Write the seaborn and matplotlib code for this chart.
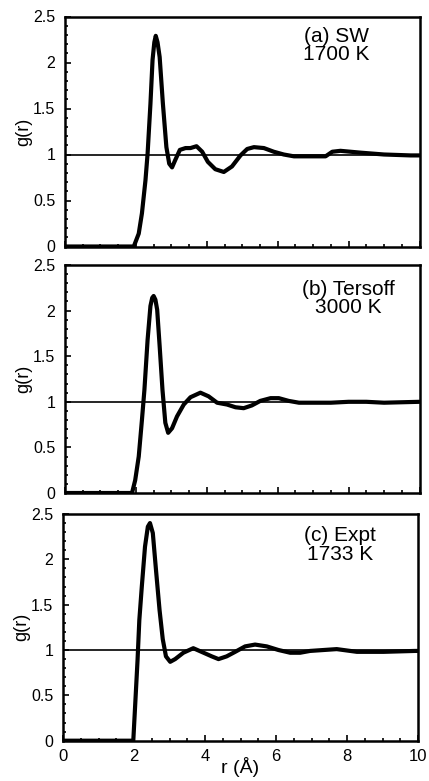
import matplotlib
matplotlib.use("Agg")
import matplotlib.pyplot as plt
import seaborn as sns
import pandas as pd
from matplotlib.ticker import MultipleLocator

# ---------------- data ----------------
r_sw = [0.0, 1.94, 2.08, 2.17, 2.27, 2.33, 2.41, 2.47, 2.52, 2.56, 2.61, 2.67, 2.76, 2.86,
        2.94, 3.02, 3.11, 3.24, 3.40, 3.54, 3.71, 3.87, 4.03, 4.24, 4.48, 4.71, 4.95,
        5.14, 5.33, 5.61, 5.89, 6.17, 6.46, 6.93, 7.35, 7.54, 7.77, 8.34, 9.0, 9.75, 10.0]
g_sw = [0.0, 0.0, 0.14, 0.36, 0.72, 1.01, 1.55, 2.03, 2.22, 2.29, 2.22, 2.06, 1.56, 1.08,
        0.90, 0.86, 0.94, 1.05, 1.07, 1.07, 1.09, 1.03, 0.92, 0.84, 0.81, 0.87, 0.99,
        1.06, 1.08, 1.07, 1.03, 1.00, 0.98, 0.98, 0.98, 1.03, 1.04, 1.02, 1.00, 0.99, 0.99]

r_ter = [0.0, 1.89, 1.98, 2.08, 2.17, 2.24, 2.33, 2.41, 2.46, 2.50, 2.55, 2.60, 2.67, 2.75,
         2.83, 2.91, 3.02, 3.16, 3.35, 3.54, 3.82, 4.05, 4.29, 4.57, 4.81, 5.04, 5.27,
         5.51, 5.80, 6.03, 6.31, 6.60, 7.0, 7.5, 8.0, 8.5, 9.0, 10.0]
g_ter = [0.0, 0.0, 0.14, 0.40, 0.80, 1.13, 1.68, 2.05, 2.14, 2.16, 2.12, 2.01, 1.61, 1.13,
         0.77, 0.66, 0.71, 0.84, 0.97, 1.05, 1.10, 1.06, 0.99, 0.97, 0.94, 0.93, 0.96,
         1.01, 1.04, 1.04, 1.01, 0.99, 0.99, 0.99, 1.00, 1.00, 0.99, 1.00]

r_exp = [0.0, 1.98, 2.03, 2.10, 2.15, 2.22, 2.31, 2.39, 2.45, 2.53, 2.62, 2.72, 2.81, 2.90,
         3.02, 3.16, 3.39, 3.67, 3.96, 4.19, 4.38, 4.61, 4.85, 5.13, 5.41, 5.74, 6.07,
         6.40, 6.68, 6.96, 7.71, 8.28, 9.03, 9.92, 10.0]
g_exp = [0.0, 0.0, 0.37, 0.89, 1.33, 1.70, 2.14, 2.36, 2.40, 2.29, 1.88, 1.44, 1.12, 0.93,
         0.87, 0.90, 0.97, 1.02, 0.97, 0.93, 0.90, 0.93, 0.98, 1.04, 1.06, 1.04, 1.00,
         0.97, 0.97, 0.99, 1.01, 0.98, 0.98, 0.99, 0.99]

panel_labels = ["(a) SW\n1700 K", "(b) Tersoff\n3000 K", "(c) Expt\n1733 K"]
REF_LEVEL = 1.0
x_ticks = [0, 2, 4, 6, 8, 10]
y_ticks = [0, 0.5, 1, 1.5, 2, 2.5]
y_tick_labels = ["0", "0.5", "1", "1.5", "2", "2.5"]

# ---------------- style ----------------
sns.set_theme(style="ticks")
plt.rcParams["font.family"] = ["Liberation Sans", "DejaVu Sans"]
plt.rcParams["axes.linewidth"] = 1.8

fig = plt.figure(figsize=(4.29, 7.81), dpi=100)
positions = [
    [65 / 429, 1 - 246.5 / 781, 354.5 / 429, 230 / 781],
    [65 / 429, 1 - 493 / 781, 354.5 / 429, 228 / 781],
    [63 / 429, 1 - 740.7 / 781, 355 / 429, 226.7 / 781],
]
series = [(r_sw, g_sw), (r_ter, g_ter), (r_exp, g_exp)]
text_x = [7.66, 8.0, 7.8]
text_y = [0.955, 0.935, 0.945]

for i, (pos, (rr, gg)) in enumerate(zip(positions, series)):
    ax = fig.add_axes(pos)
    df = pd.DataFrame({"r": rr, "g": gg})
    ax.axhline(REF_LEVEL, color="black", lw=1.2, zorder=2)
    sns.lineplot(data=df, x="r", y="g", ax=ax, color="black", lw=3.0,
                 sort=False, estimator=None, zorder=3,
                 solid_joinstyle="round", solid_capstyle="round")
    ax.set_xlim(0, 10)
    ax.set_ylim(0, 2.5)
    ax.set_xticks(x_ticks)
    ax.set_yticks(y_ticks)
    ax.set_yticklabels(y_tick_labels)
    ax.xaxis.set_minor_locator(MultipleLocator(0.5))
    ax.yaxis.set_minor_locator(MultipleLocator(0.1))
    ax.tick_params(which="both", direction="in", top=False, right=False,
                   color="black", width=1.2)
    ax.tick_params(which="major", length=4)
    ax.tick_params(which="minor", length=2.5)
    ax.tick_params(axis="y", labelsize=11.5, pad=7, labelcolor="black")
    ax.tick_params(axis="x", labelsize=12, pad=6, labelcolor="black")
    for sp in ax.spines.values():
        sp.set_color("black")
        sp.set_linewidth(1.8)
    ax.set_ylabel("g(r)", fontsize=13, color="black")
    ax.yaxis.set_label_coords(-0.093, 0.5)
    if i < 2:
        ax.set_xticklabels([])
        ax.set_xlabel("")
    else:
        ax.set_xlabel("r (Å)", fontsize=14, color="black", va="top")
        ax.xaxis.set_label_coords(0.5, -0.072)
    ax.text(text_x[i], text_y[i], panel_labels[i], transform=ax.get_xaxis_transform(),
            ha="center", va="top", multialignment="center", fontsize=15,
            linespacing=0.95, color="black")

fig.savefig("out.png", dpi=100)
